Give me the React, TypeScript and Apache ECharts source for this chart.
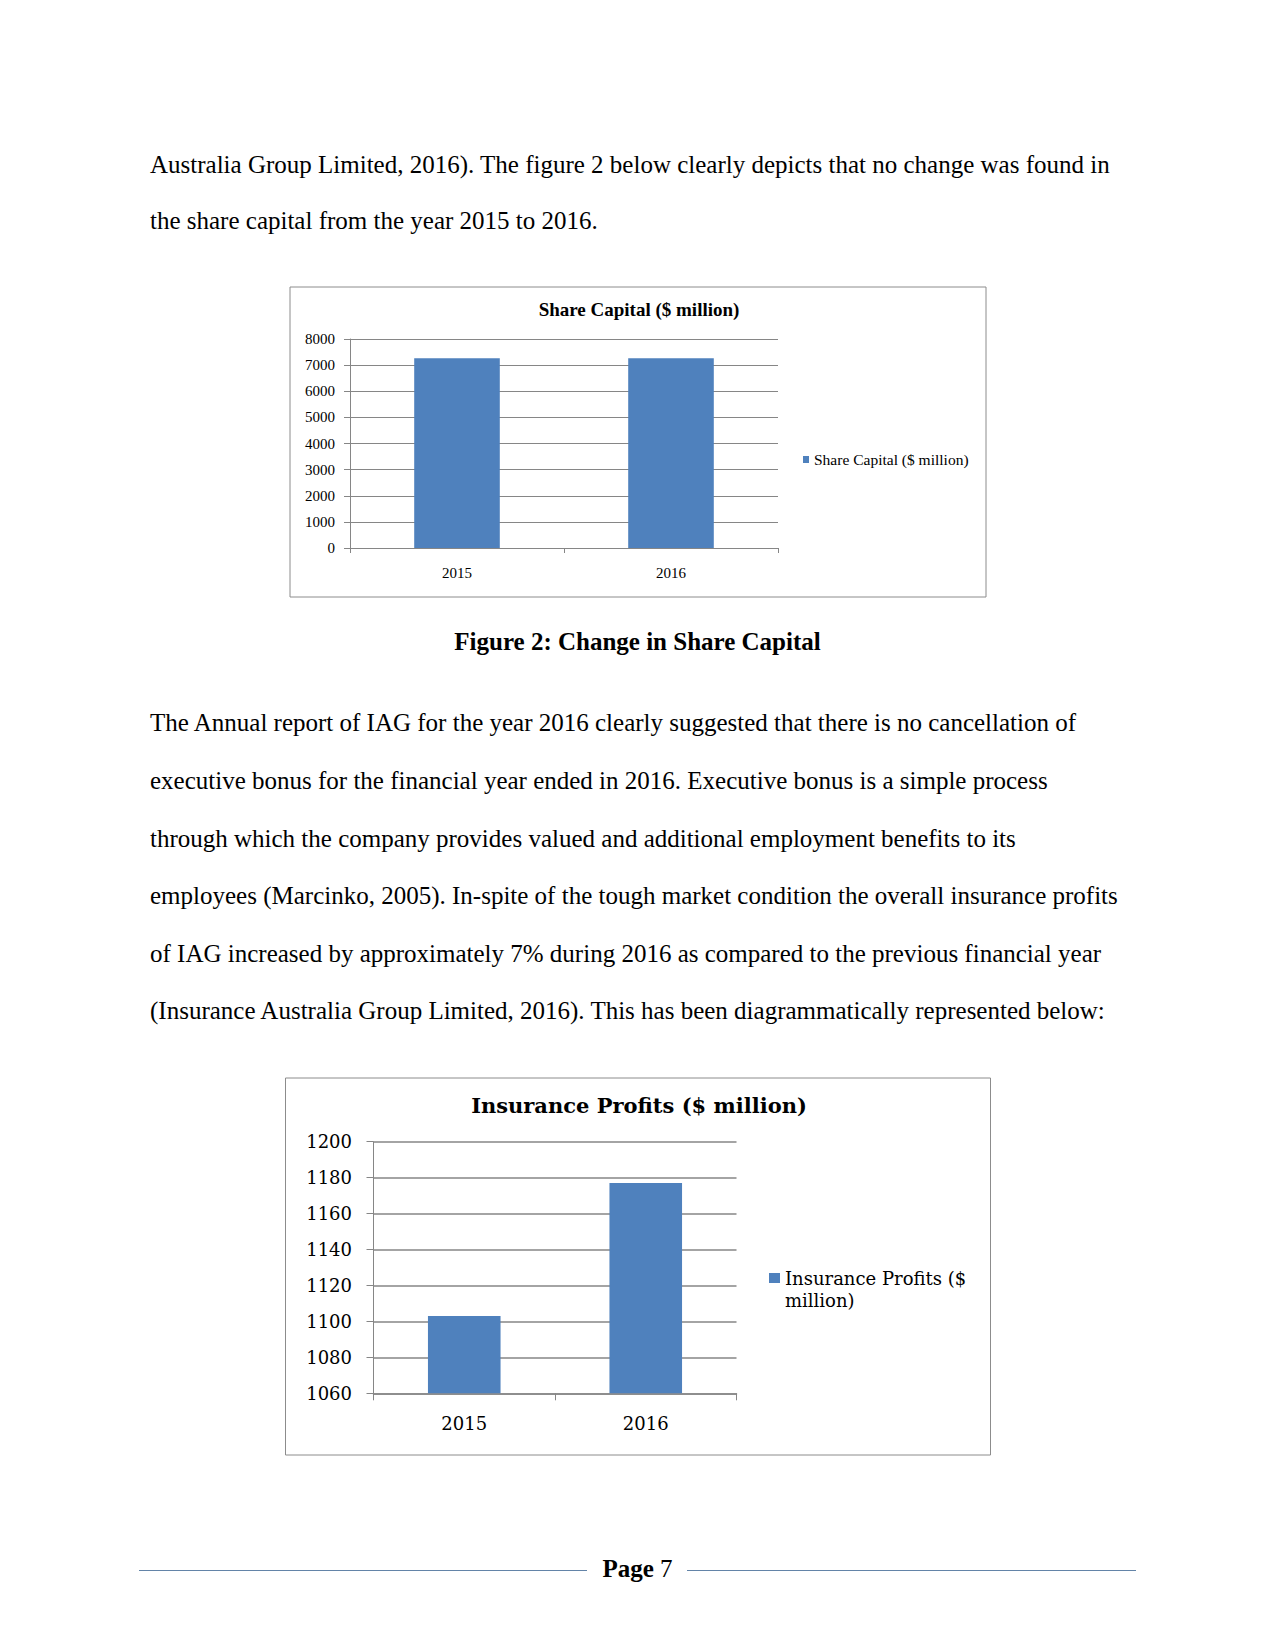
import React, { useEffect, useRef } from "react";
import * as echarts from "echarts";

// ---------- data ----------
const years = ["2015", "2016"];
const shareCapital = [7260, 7260];
const insuranceProfits = [1103, 1177];
const shareAxis = { min: 0, max: 8000, interval: 1000 };
const profitAxis = { min: 1060, max: 1200, interval: 20 };

const para1 = [
  "Australia Group Limited, 2016). The figure 2 below clearly depicts that no change was found in",
  "the share capital from the year 2015 to 2016.",
];
const para1Baselines = [173, 229.5];
const para2 = [
  "The Annual report of IAG for the year 2016 clearly suggested that there is no cancellation of",
  "executive bonus for the financial year ended in 2016. Executive bonus is a simple process",
  "through which the company provides valued and additional employment benefits to its",
  "employees (Marcinko, 2005). In-spite of the tough market condition the overall insurance profits",
  "of IAG increased by approximately 7% during 2016 as compared to the previous financial year",
  "(Insurance Australia Group Limited, 2016). This has been diagrammatically represented below:",
];
const para2Baselines = [731.5, 789, 847, 904.5, 962, 1019.5];
const caption = "Figure 2: Change in Share Capital";

const BLUE = "#4F81BD";
const GRID = "#868686";
const SERIF = "'Liberation Serif', 'Times New Roman', serif";
const DEJAVU = "'DejaVu Serif', serif";

function Chart({ option, style }: { option: any; style: React.CSSProperties }) {
  const ref = useRef<HTMLDivElement>(null);
  useEffect(() => {
    if (!ref.current) return;
    const chart = echarts.init(ref.current, undefined, { renderer: "svg" });
    chart.setOption(option);
    return () => chart.dispose();
  }, []);
  return <div ref={ref} style={{ position: "absolute", ...style }} />;
}

const plain = (v: number) => String(v);

const shareOption = {
  animation: false,
  title: {
    text: "Share Capital ($ million)",
    left: "center",
    top: 10,
    textStyle: { fontFamily: SERIF, fontSize: 19, fontWeight: "bold", color: "#000" },
  },
  legend: {
    left: 510,
    top: 161.5,
    icon: "rect",
    itemWidth: 6,
    itemHeight: 7,
    textStyle: { fontFamily: SERIF, fontSize: 15.5, color: "#000" },
    data: ["Share Capital ($ million)"],
  },
  grid: { left: 62, top: 54, width: 428, height: 209 },
  xAxis: {
    type: "category",
    data: years,
    axisLine: { show: true, lineStyle: { color: GRID, width: 1 } },
    axisTick: { show: true, length: 5, lineStyle: { color: GRID } },
    axisLabel: { margin: 17, fontFamily: SERIF, fontSize: 15, color: "#000" },
  },
  yAxis: {
    type: "value",
    ...shareAxis,
    axisLine: { show: true, lineStyle: { color: GRID, width: 1 } },
    axisTick: { show: true, length: 6, lineStyle: { color: GRID } },
    splitLine: { show: true, lineStyle: { color: GRID, width: 1 } },
    axisLabel: { margin: 15, fontFamily: SERIF, fontSize: 15, color: "#000", formatter: plain },
  },
  series: [
    {
      name: "Share Capital ($ million)",
      type: "bar",
      data: shareCapital,
      barWidth: "40%",
      itemStyle: { color: BLUE },
    },
  ],
  graphic: [
    {
      type: "rect",
      shape: { x: 2, y: 2, width: 696, height: 310 },
      style: { fill: "none", stroke: "#8c8c8c", lineWidth: 1 },
      silent: true,
    },
  ],
};

const profitOption = {
  animation: false,
  title: {
    text: "Insurance Profits ($ million)",
    left: "center",
    top: 14.5,
    textStyle: { fontFamily: DEJAVU, fontSize: 21, fontWeight: "bold", color: "#000" },
  },
  legend: {
    left: 481,
    top: 165,
    icon: "rect",
    itemWidth: 11,
    itemHeight: 10,
    formatter: () => "\nInsurance Profits ($\nmillion)",
    textStyle: {
      fontFamily: DEJAVU,
      fontSize: 18,
      lineHeight: 22,
      color: "#000",
    },
    data: ["Insurance Profits ($ million)"],
  },
  grid: { left: 90.5, top: 66.7, width: 363, height: 251.6 },
  xAxis: {
    type: "category",
    data: years,
    axisLine: { show: true, lineStyle: { color: GRID, width: 1.5 } },
    axisTick: { show: true, length: 7, lineStyle: { color: GRID } },
    axisLabel: { margin: 21.5, fontFamily: DEJAVU, fontSize: 18, color: "#000" },
  },
  yAxis: {
    type: "value",
    ...profitAxis,
    axisLine: { show: true, lineStyle: { color: GRID, width: 1 } },
    axisTick: { show: true, length: 7, lineStyle: { color: GRID } },
    splitLine: { show: true, lineStyle: { color: GRID, width: 1.5 } },
    axisLabel: { margin: 21.5, fontFamily: DEJAVU, fontSize: 18, color: "#000", formatter: plain },
  },
  series: [
    {
      name: "Insurance Profits ($ million)",
      type: "bar",
      data: insuranceProfits,
      barWidth: "40%",
      itemStyle: { color: BLUE },
    },
  ],
  graphic: [
    {
      type: "rect",
      shape: { x: 2.5, y: 3, width: 705, height: 377 },
      style: { fill: "none", stroke: "#8c8c8c", lineWidth: 1 },
      silent: true,
    },
  ],
};

function Line({ text, baseline, bold, center }: { text: string; baseline: number; bold?: boolean; center?: boolean }) {
  return (
    <div
      style={{
        position: "absolute",
        left: center ? 0 : 150,
        width: center ? 1275 : undefined,
        textAlign: center ? "center" : "left",
        top: baseline - 23.4,
        height: 30,
        lineHeight: "30px",
        fontFamily: SERIF,
        fontSize: 25,
        fontWeight: bold ? "bold" : "normal",
        color: "#000",
        whiteSpace: "pre",
      }}
    >
      {text}
    </div>
  );
}

export default function App() {
  return (
    <div
      style={{
        position: "absolute",
        left: 0,
        top: 0,
        width: 1275,
        height: 1650,
        background: "#fff",
        overflow: "hidden",
      }}
    >
      {para1.map((t, i) => (
        <Line key={"a" + i} text={t} baseline={para1Baselines[i]} />
      ))}
      <Chart option={shareOption} style={{ left: 288, top: 285, width: 702, height: 315 }} />
      <Line text={caption} baseline={650} bold center />
      {para2.map((t, i) => (
        <Line key={"b" + i} text={t} baseline={para2Baselines[i]} />
      ))}
      <Chart option={profitOption} style={{ left: 283, top: 1075, width: 712, height: 385 }} />
      {/* footer */}
      <div style={{ position: "absolute", left: 139, top: 1570, width: 448, height: 1, background: "#6384a8" }} />
      <div style={{ position: "absolute", left: 687, top: 1570, width: 449, height: 1, background: "#6384a8" }} />
      <div
        style={{
          position: "absolute",
          left: 0,
          width: 1275,
          textAlign: "center",
          top: 1577 - 23.4,
          height: 30,
          lineHeight: "30px",
          fontFamily: SERIF,
          fontSize: 25,
          color: "#000",
          whiteSpace: "pre",
        }}
      >
        <b>Page</b> 7
      </div>
    </div>
  );
}
